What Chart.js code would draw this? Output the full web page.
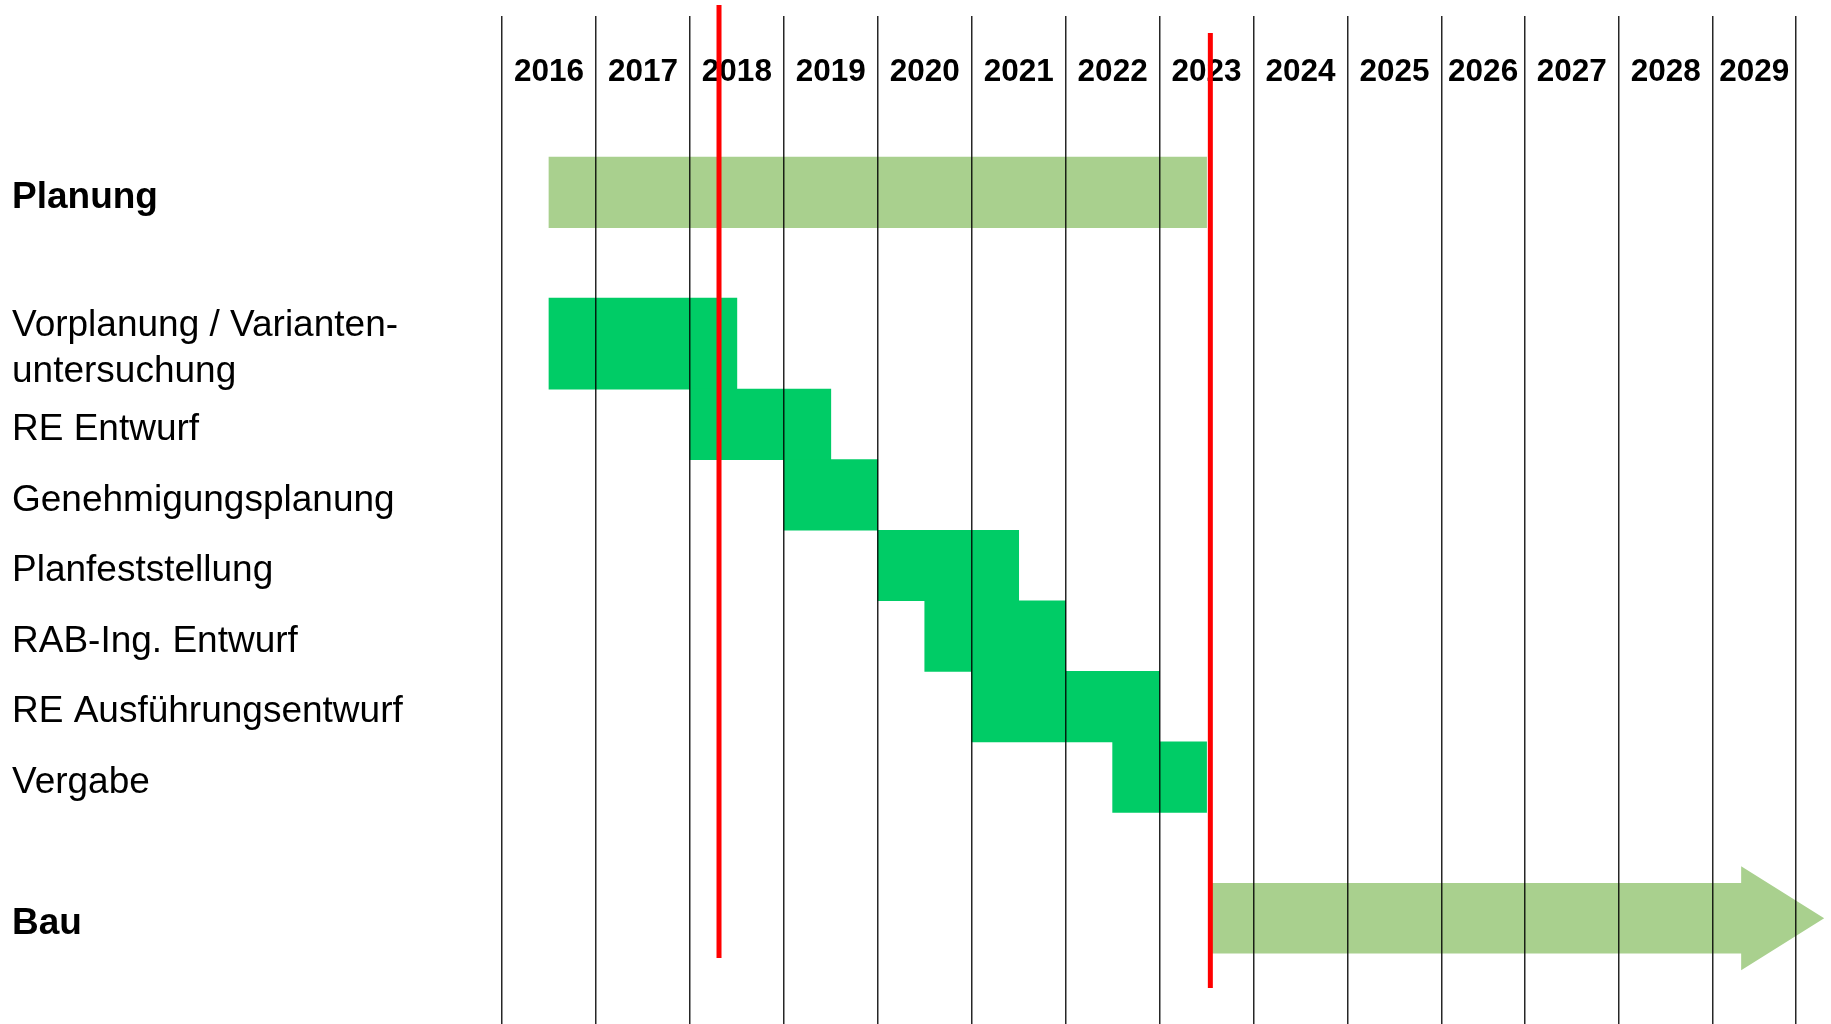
<!DOCTYPE html>
<html>
<head>
<meta charset="utf-8">
<script src="https://cdn.jsdelivr.net/npm/chart.js@4/dist/chart.umd.min.js"></script>
<style>
  html, body { margin: 0; padding: 0; background: #ffffff; }
  canvas { display: block; }
</style>
</head>
<body>
<canvas id="c" width="1831" height="1024"></canvas>
<script>
// ---------------- data ----------------
const years = [2016, 2017, 2018, 2019, 2020, 2021, 2022, 2023, 2024, 2025, 2026, 2027, 2028, 2029];
const summaryLabels = ['Planung', 'Bau'];
const planungSpan = [2016.5, 2023.5];
const bauSpan = [2023.55, 2030.3];
const phaseLabels = [
  'Vorplanung / Varianten-\nuntersuchung',
  'RE Entwurf',
  'Genehmigungsplanung',
  'Planfeststellung',
  'RAB-Ing. Entwurf',
  'RE Ausführungsentwurf',
  'Vergabe'
];
const phaseStart = [2016.5, 2018.0, 2019.0, 2020.0, 2020.5, 2021.0, 2022.5];
const phaseEnd   = [2018.5, 2019.5, 2020.0, 2021.5, 2022.0, 2023.0, 2023.5];
const markerYears = [2018.31, 2023.54];

// ---------------- layout / style ----------------
const FONT = "'Liberation Sans', Arial, Helvetica, sans-serif";
const COLOR_SUMMARY = '#A9D08E';
const COLOR_PHASE = '#00CC66';
const COLUMN_WEIGHTS = { 2026: 0.887, 2029: 0.887 };   // narrower table columns

// rows of the chart (blank rows are spacers)
const rowLabels = ['', '', summaryLabels[0], '', ...phaseLabels, '', summaryLabels[1], ''];
const ROW_WEIGHTS = rowLabels.map(l => (l === phaseLabels[0] ? 1.29 : 1));
const chartLabels = rowLabels.map(l => (l.includes('\n') ? l.split('\n') : l));

const planData = rowLabels.map(l => (l === summaryLabels[0] ? planungSpan : null));
const bauData = rowLabels.map(l => (l === summaryLabels[1] ? bauSpan : null));
const firstPhaseData = rowLabels.map(l => (l === phaseLabels[0] ? [phaseStart[0], phaseEnd[0]] : null));
const phaseData = rowLabels.map(l => {
  const i = phaseLabels.indexOf(l);
  return i > 0 ? [phaseStart[i], phaseEnd[i]] : null;
});

// ---------------- custom scales ----------------
class YearScale extends Chart.LinearScale {
  static id = 'years';
  getPixelForValue(value) {
    if (value === null || value === undefined || isNaN(value)) return NaN;
    const min = this.min, max = this.max;
    const w = (y) => (y >= min && y < max && COLUMN_WEIGHTS[y] !== undefined) ? COLUMN_WEIGHTS[y] : 1;
    let total = 0;
    for (let y = min; y < max; y++) total += w(y);
    let acc = 0;
    if (value < min) {
      acc = value - min;
    } else {
      let y = min;
      while (y + 1 <= value && y < max) { acc += w(y); y++; }
      acc += (value - y) * w(y);
    }
    return this.getPixelForDecimal(acc / total);
  }
}

class RowScale extends Chart.CategoryScale {
  static id = 'rows';
  getPixelForValue(value) {
    if (typeof value !== 'number') value = this.parse(value);
    if (value === null || isNaN(value)) return NaN;
    const n = this.getLabels().length;
    let total = 0, before = 0;
    for (let i = 0; i < n; i++) {
      const wi = ROW_WEIGHTS[i] ?? 1;
      if (i < value) before += wi;
      total += wi;
    }
    const w = ROW_WEIGHTS[value] ?? 1;
    return this.getPixelForDecimal((before + w / 2) / total);
  }
}
Chart.register(YearScale, RowScale);

// ---------------- plugins ----------------
const arrowPlugin = {
  id: 'arrowBar',
  afterDatasetsDraw(chart) {
    const ctx = chart.ctx;
    chart.data.datasets.forEach((ds, di) => {
      if (!ds.arrow) return;
      const meta = chart.getDatasetMeta(di);
      meta.data.forEach((el, i) => {
        if (ds.data[i] == null) return;
        const p = el.getProps(['x', 'base', 'y', 'height'], true);
        const h = p.height;
        const headLen = ds.arrow.headLength * h;
        const headHalf = ds.arrow.headHalf * h;
        const neck = p.x - headLen;
        ctx.save();
        ctx.fillStyle = ds.arrow.color;
        ctx.beginPath();
        ctx.moveTo(p.base, p.y - h / 2);
        ctx.lineTo(neck, p.y - h / 2);
        ctx.lineTo(neck, p.y - headHalf);
        ctx.lineTo(p.x, p.y);
        ctx.lineTo(neck, p.y + headHalf);
        ctx.lineTo(neck, p.y + h / 2);
        ctx.lineTo(p.base, p.y + h / 2);
        ctx.closePath();
        ctx.fill();
        ctx.restore();
      });
    });
  }
};

const MARKER_EXTENTS = [{ top: 5, bottom: 958 }, { top: 33, bottom: 988 }];
const markerPlugin = {
  id: 'markers',
  afterDraw(chart) {
    const ctx = chart.ctx;
    const xs = chart.scales.x;
    ctx.save();
    ctx.strokeStyle = '#FF0000';
    ctx.lineWidth = 5;
    ctx.lineCap = 'butt';
    markerYears.forEach((v, i) => {
      const px = xs.getPixelForValue(v);
      const ext = MARKER_EXTENTS[i];
      ctx.beginPath();
      ctx.moveTo(px, ext.top);
      ctx.lineTo(px, ext.bottom);
      ctx.stroke();
    });
    ctx.restore();
  }
};

// ---------------- chart ----------------
const barCommon = {
  grouped: false,
  barPercentage: 1,
  categoryPercentage: 1,
  borderWidth: 0,
  xAxisID: 'x',
  yAxisID: 'y'
};

new Chart(document.getElementById('c'), {
  type: 'bar',
  data: {
    labels: chartLabels,
    datasets: [
      Object.assign({ label: 'Planung', data: planData, backgroundColor: COLOR_SUMMARY }, barCommon),
      Object.assign({ label: 'Phasen', data: phaseData, backgroundColor: COLOR_PHASE }, barCommon),
      Object.assign({ label: 'Vorplanung', data: firstPhaseData, backgroundColor: COLOR_PHASE, barThickness: 91 }, barCommon),
      Object.assign({
        label: 'Bau', data: bauData, backgroundColor: 'rgba(0,0,0,0)', clip: false,
        arrow: { color: COLOR_SUMMARY, headLength: 1.177, headHalf: 0.737 }
      }, barCommon)
    ]
  },
  options: {
    indexAxis: 'y',
    responsive: false,
    devicePixelRatio: 1,
    animation: false,
    events: [],
    layout: { padding: { left: 12, right: 35, top: 16, bottom: 0 } },
    plugins: {
      legend: { display: false },
      tooltip: { enabled: false },
      title: { display: false }
    },
    scales: {
      x: {
        type: 'years',
        axis: 'x',
        position: 'top',
        min: 2016,
        max: 2030,
        stacked: false,
        afterBuildTicks: (s) => { s.ticks = years.concat([2030]).map(v => ({ value: v })); },
        afterFit: (s) => { s.height = 0; s.paddingLeft = 0; s.paddingRight = 0; },
        grid: { display: true, drawOnChartArea: true, drawTicks: false, tickLength: 0, color: 'rgba(0,0,0,0.85)', lineWidth: 1.5, z: 1 },
        border: { display: false },
        ticks: { display: false, autoSkip: false }
      },
      xl: {
        type: 'years',
        axis: 'x',
        position: 'top',
        min: 2016,
        max: 2030,
        afterBuildTicks: (s) => { s.ticks = years.map(v => ({ value: v + 0.5 })); },
        afterFit: (s) => { s.height = 0; s.paddingLeft = 0; s.paddingRight = 0; },
        grid: { display: false, drawTicks: false, tickLength: 0 },
        border: { display: false },
        ticks: {
          autoSkip: false,
          mirror: true,
          maxRotation: 0,
          minRotation: 0,
          padding: 37,
          color: '#000000',
          font: { family: FONT, size: 31.5, weight: 'bold' },
          callback: (v) => String(Math.floor(v))
        }
      },
      y: {
        type: 'rows',
        position: 'left',
        afterFit: (s) => { s.width = 490; s.paddingTop = 0; s.paddingBottom = 0; },
        grid: { display: false, drawTicks: false },
        border: { display: false },
        ticks: {
          autoSkip: false,
          crossAlign: 'far',
          labelOffset: 5.5,
          color: '#000000',
          font: (ctx) => ({
            family: FONT,
            size: 37,
            lineHeight: 1.24,
            weight: (ctx.tick && summaryLabels.includes(ctx.tick.label)) ? 'bold' : 'normal'
          })
        }
      }
    }
  },
  plugins: [arrowPlugin, markerPlugin]
});
</script>
</body>
</html>
